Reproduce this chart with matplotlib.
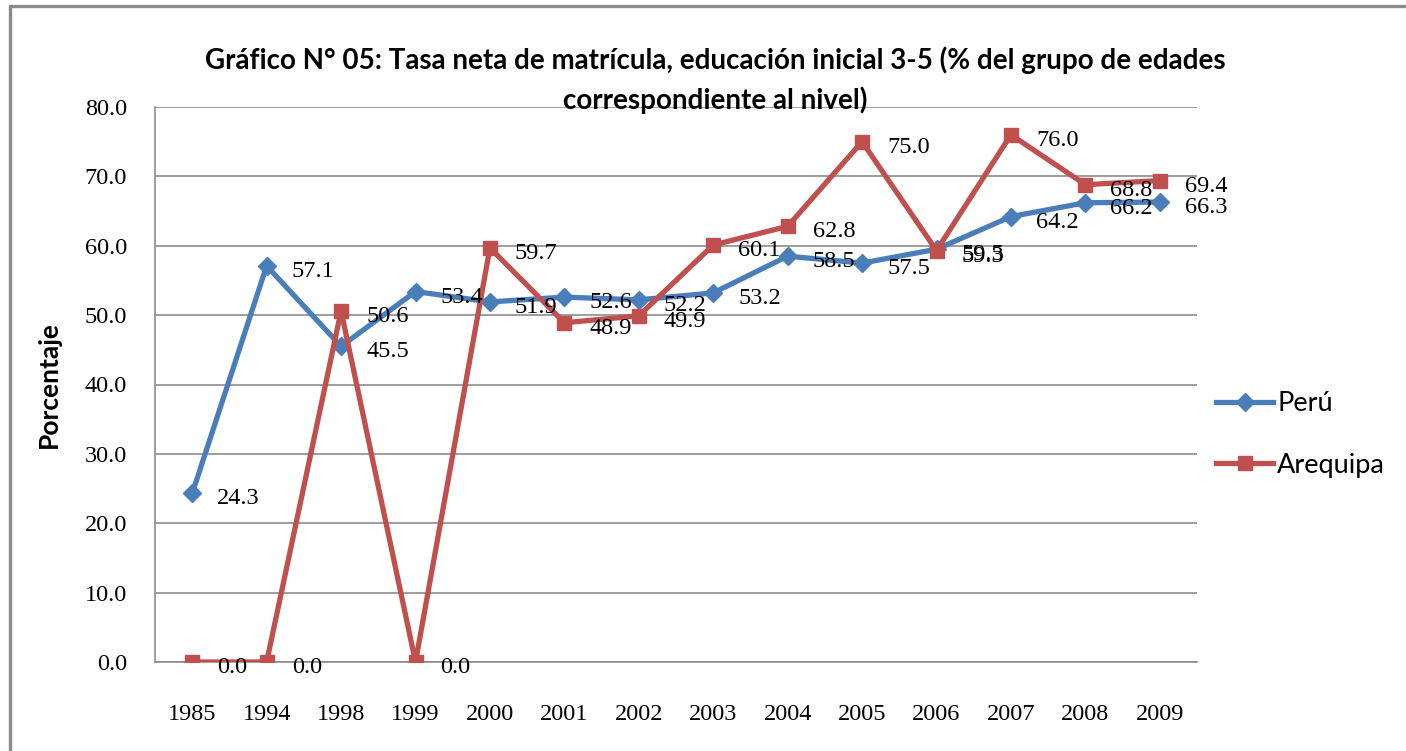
import matplotlib
matplotlib.use("Agg")
import matplotlib.pyplot as plt
from matplotlib.patches import Rectangle

years = ["1985", "1994", "1998", "1999", "2000", "2001", "2002", "2003",
         "2004", "2005", "2006", "2007", "2008", "2009"]
peru = [24.3, 57.1, 45.5, 53.4, 51.9, 52.6, 52.2, 53.2, 58.5, 57.5, 59.5, 64.2, 66.2, 66.3]
arequipa = [0.0, 0.0, 50.6, 0.0, 59.7, 48.9, 49.9, 60.1, 62.8, 75.0, 59.3, 76.0, 68.8, 69.4]
yticks = [0, 10, 20, 30, 40, 50, 60, 70, 80]

W, H = 1406, 751
fig = plt.figure(figsize=(W / 100, H / 100), dpi=100)
fig.patch.set_facecolor("white")

# outer border
fig.add_artist(Rectangle((10 / W, -0.05), 1.2, (H - 6) / H + 0.05, transform=fig.transFigure,
                         fill=False, edgecolor="#8a8a8a", linewidth=2.4))

ax = fig.add_axes([155 / W, (H - 662) / H, (1197 - 155) / W, (662 - 107) / H])
x = list(range(len(years)))

blue = "#4a7ebb"
red = "#c0504d"
ax.plot(x, peru, color=blue, lw=3.8, marker="D", ms=9, mec=blue, mfc=blue,
        label="Perú", zorder=3)
ax.plot(x, arequipa, color=red, lw=3.8, marker="s", ms=10, mec=red, mfc=red,
        label="Arequipa", zorder=4)

serif = "Liberation Serif"
for xi, v in zip(x, peru):
    ax.annotate(f"{v:.1f}", (xi, v), xytext=(18, -4), textcoords="offset points",
                ha="left", va="center", fontsize=17.5, family=serif, color="black", zorder=5)
for xi, v in zip(x, arequipa):
    ax.annotate(f"{v:.1f}", (xi, v), xytext=(18, -4), textcoords="offset points",
                ha="left", va="center", fontsize=17.5, family=serif, color="black", zorder=5)

ax.set_xlim(-0.5, len(years) - 0.5)
ax.set_ylim(0, 80)
ax.set_yticks(yticks)
ax.set_yticklabels([f"{t:.1f}" for t in yticks], fontsize=17.5, family=serif)
ax.set_xticks(x)
ax.set_xticklabels(years, fontsize=17.5, family=serif)
ax.tick_params(axis="both", length=0)
ax.tick_params(axis="y", pad=20)
ax.tick_params(axis="x", pad=30)
ax.grid(axis="y", color="#8c8c8c", lw=1.2)
ax.set_axisbelow(True)
for s in ["top", "right"]:
    ax.spines[s].set_visible(False)
for s in ["left", "bottom"]:
    ax.spines[s].set_color("#8c8c8c")
    ax.spines[s].set_linewidth(1.2)

ax.set_ylabel("Porcentaje", fontsize=19, fontweight="bold", family="Lato", labelpad=17)

fig.text(715 / W, 1 - 60 / H, "Gráfico N° 05: Tasa neta de matrícula, educación inicial 3-5 (% del grupo de edades",
         ha="center", va="center", fontsize=20, family="Lato", fontweight="bold")
fig.text(715 / W, 1 - 100 / H, "correspondiente al nivel)",
         ha="center", va="center", fontsize=20, family="Lato", fontweight="bold")

leg = ax.legend(loc="center left", bbox_to_anchor=(0.995, 0.41), frameon=False,
                prop={"family": "Lato", "size": 19.5}, handlelength=2.1,
                labelspacing=1.35, handletextpad=0.15, borderaxespad=0.5)

fig.savefig("out.png", dpi=100, facecolor="white")
